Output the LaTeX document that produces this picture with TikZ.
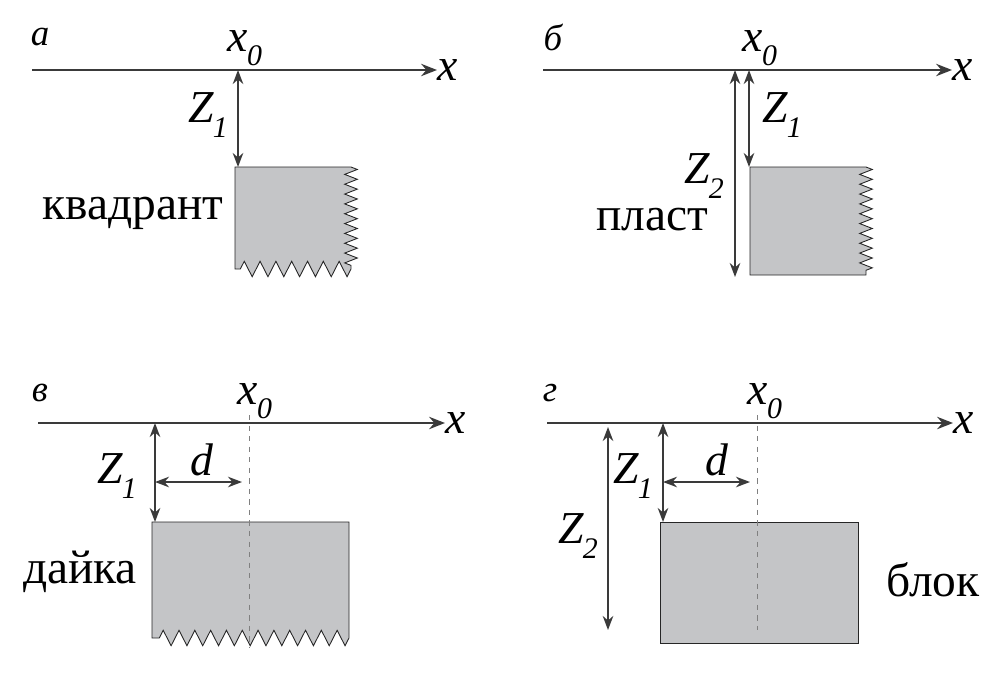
\documentclass[tikz,border=0pt]{standalone}
\usepackage{fontspec}
\setmainfont{Liberation Serif}
\usetikzlibrary{calc,positioning,arrows.meta,decorations.pathmorphing}
\definecolor{axgray}{HTML}{3A3A3A}
\definecolor{boxgray}{HTML}{C4C5C7}
\newcommand{\lowidx}[2]{#1\kern-0.5pt\raisebox{-0.32em}{\fontsize{17}{19}\selectfont #2}}
\tikzstyle{axis} = [draw=axgray,line width=1.3pt,->,>={Stealth[length=9pt,width=7pt]}]
\tikzstyle{dim} = [draw=axgray,line width=1.1pt,<->,>={Stealth[length=8pt,width=6pt]}]
\tikzstyle{body} = [fill=boxgray,draw=black!85,line width=0.5pt]
\tikzstyle{axial} = [draw=gray,dashed,line width=0.4pt]
\tikzstyle{saw} = [decoration={zigzag,segment length=5.6pt,amplitude=3.6pt}]
\tikzstyle{sawb} = [decoration={zigzag,segment length=9pt,amplitude=4.4pt}]
\tikzstyle{lbl} = [font=\fontsize{27}{30}\selectfont,inner sep=0pt]
\tikzstyle{sym} = [font=\fontsize{26}{29}\selectfont\itshape,inner sep=0pt]
\tikzstyle{tag} = [font=\fontsize{21}{24}\selectfont\itshape,inner sep=0pt]
\begin{document}
\begin{tikzpicture}[x=0.02cm,y=-0.02cm]
\useasboundingbox (0,0) rectangle (1004,673);
% а) квадрант
\node (aT) [tag] at (40,37) {а};
\node (aX0) [sym] at (245,48) {\lowidx{x}{0}};
\node (aX) [sym,anchor=west] at (437,70) {x};
\coordinate (aL) at (32,70);
\coordinate (aO) at (238,70);
\coordinate (aB) at (238,167);
\draw [axis] (aL) -- (aX.west);
\filldraw [body] (235,167) -- (351,167) decorate[saw]{-- (351,269)} decorate[sawb]{-- (235,269)} -- cycle;
\draw [dim] (aO) -- (aB);
\node (aZ1) [sym] at (208,115) {\lowidx{Z}{1}};
\node (aName) [lbl] at (133,213) {квадрант};
% б) пласт
\node (bT) [tag] at (553,37) {б};
\node (bX0) [sym] at (760,48) {\lowidx{x}{0}};
\node (bX) [sym,anchor=west] at (952,70) {x};
\coordinate (bL) at (543,70);
\coordinate (bO) at (749,70);
\coordinate (bB) at (749,167);
\coordinate (bO2) at (735,70);
\coordinate (bB2) at (735,277);
\draw [axis] (bL) -- (bX.west);
\filldraw [body] (750,167) -- (866,167) decorate[saw]{-- (866,275)} -- (750,275) -- cycle;
\draw [dim] (bO) -- (bB);
\draw [dim] (bO2) -- (bB2);
\node (bZ1) [sym] at (782,115) {\lowidx{Z}{1}};
\node (bZ2) [sym] at (704,176) {\lowidx{Z}{2}};
\node (bName) [lbl] at (652,220) {пласт};
% в) дайка
\node (cT) [tag] at (40,393) {в};
\node (cX0) [sym] at (255,401) {\lowidx{x}{0}};
\node (cX) [sym,anchor=west] at (445,423) {x};
\coordinate (cL) at (38,423);
\coordinate (cO) at (155,423);
\coordinate (cB) at (155,522);
\coordinate (cM) at (155,482);
\coordinate (cD) at (242,482);
\coordinate (cA1) at (249,415);
\coordinate (cA2) at (249,647);
\draw [axis] (cL) -- (cX.west);
\filldraw [body] (152,522) -- (349,522) -- (349,638) decorate[sawb]{-- (152,638)} -- cycle;
\draw [axial] (cA1) -- (cA2);
\draw [dim] (cO) -- (cB);
\draw [dim] (cM) -- (cD);
\node (cZ1) [sym] at (117,476) {\lowidx{Z}{1}};
\node (cd) [sym] at (202,460) {d};
\node (cName) [lbl] at (80,572) {дайка};
% г) блок
\node (dT) [tag] at (550,393) {г};
\node (dX0) [sym] at (765,401) {\lowidx{x}{0}};
\node (dX) [sym,anchor=west] at (953,423) {x};
\coordinate (dL) at (547,423);
\coordinate (dO) at (663,423);
\coordinate (dB) at (663,522);
\coordinate (dM) at (663,482);
\coordinate (dD) at (750,482);
\coordinate (dO2) at (608,427);
\coordinate (dB2) at (608,630);
\coordinate (dA1) at (757,415);
\coordinate (dA2) at (757,630);
\draw [axis] (dL) -- (dX.west);
\filldraw [body] (660,522) rectangle (858,643);
\draw [axial] (dA1) -- (dA2);
\draw [dim] (dO) -- (dB);
\draw [dim] (dM) -- (dD);
\draw [dim] (dO2) -- (dB2);
\node (dZ1) [sym] at (633,476) {\lowidx{Z}{1}};
\node (dZ2) [sym] at (578,536) {\lowidx{Z}{2}};
\node (dd) [sym] at (717,460) {d};
\node (dName) [lbl] at (933,580) {блок};
\end{tikzpicture}
\end{document}
